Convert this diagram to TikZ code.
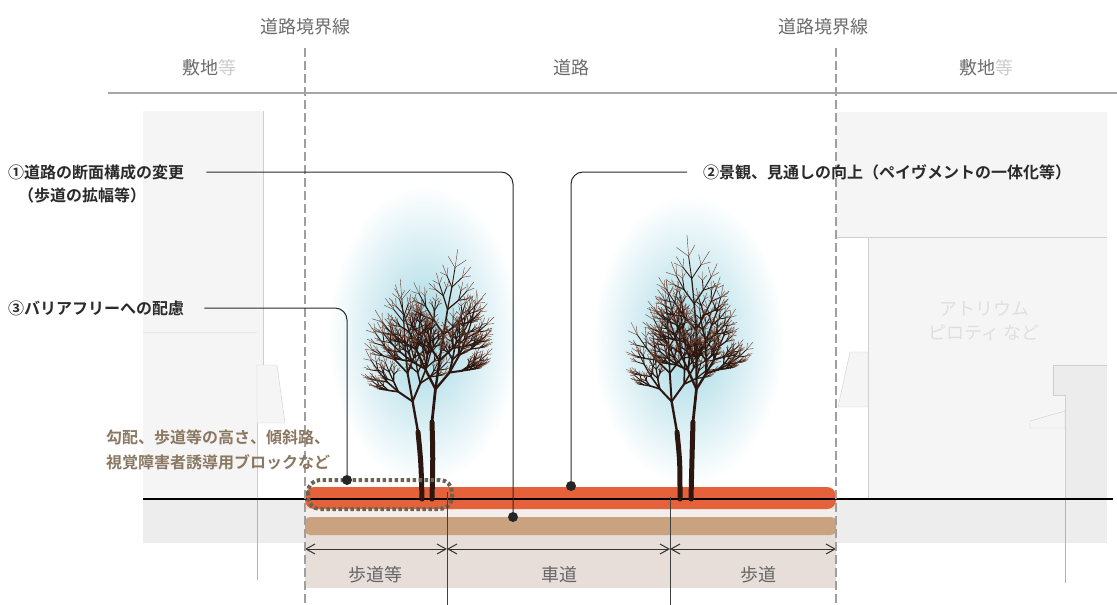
\documentclass[tikz,border=0pt]{standalone}
\usepackage{fontspec}
\setmainfont{Noto Sans CJK JP}[BoldFont={Noto Sans CJK JP Bold}]
\usetikzlibrary{arrows.meta}

\definecolor{ink}{HTML}{2A2A2A}
\definecolor{note}{HTML}{8A7862}
\definecolor{paving}{HTML}{E5613A}
\definecolor{subbase}{HTML}{C9A37F}
\definecolor{verge}{HTML}{E7DEDA}
\definecolor{lot}{HTML}{F5F5F5}
\definecolor{lotline}{HTML}{CFCFCF}
\definecolor{annex}{HTML}{ECECEC}
\definecolor{soil}{HTML}{EDEDED}
\definecolor{bark}{HTML}{2B1710}
\definecolor{twigtip}{HTML}{6A3D2E}
\definecolor{glow}{HTML}{A2D7E3}

\tikzset{
  headtext/.style={gray!85!black, font=\fontsize{18}{22}\selectfont, inner sep=0pt},
  calltext/.style={ink, font=\bfseries\fontsize{16}{23}\selectfont, inner sep=0pt, anchor=west},
  notetext/.style={note, font=\bfseries\fontsize{16}{25}\selectfont, inner sep=0pt, align=left, anchor=west},
  widthtext/.style={gray!80!black, font=\fontsize{18}{22}\selectfont, inner sep=0pt},
  leader/.style={ink, line width=1pt, rounded corners=12pt},
  leaderdot/.style={circle, fill=black!85, inner sep=0pt, minimum size=10pt},
  boundary/.style={gray!75, line width=1.3pt, dash pattern=on 9pt off 4pt},
  dimline/.style={black!80, line width=1pt, {Straight Barb[length=9pt,width=10pt]}-{Straight Barb[length=9pt,width=10pt]}},
  tick/.style={black!75, line width=0.8pt},
  trunk/.style={bark, line width=5pt, line cap=round},
}

% one limb of a tree: start x, start y, angle, level, length
% it forks into a leading shoot and two side shoots
\newcommand\twig[5]{%
  \ifnum#4>0
  \begingroup
    \pgfmathsetmacro\twigx{#1+#5*cos(#3)}%
    \pgfmathsetmacro\twigy{#2-#5*sin(#3)}%
    \ifnum#4<2
      \colorlet{twigcol}{twigtip}\def\twigw{0.4}%
    \else
      \colorlet{twigcol}{bark}\pgfmathsetmacro\twigw{0.1+0.38*#4}%
    \fi
    \draw[twigcol, line width=\twigw pt, line cap=round] (#1,#2) -- (\twigx,\twigy);
    \pgfmathsetmacro\twiga{#3+0.15*(90-#3)+10*(rnd-0.5)}%
    \pgfmathsetmacro\twigb{min(#3+25+22*rnd,172)}%
    \pgfmathsetmacro\twigc{max(#3-25-22*rnd,8)}%
    \pgfmathsetmacro\twigla{#5*(0.86+0.1*rnd)}%
    \pgfmathsetmacro\twiglb{#5*(0.55+0.15*rnd)}%
    \pgfmathsetmacro\twiglc{#5*(0.55+0.15*rnd)}%
    \edef\twignext{%
      \noexpand\twig{\twigx}{\twigy}{\twiga}{\the\numexpr#4-1\relax}{\twigla}%
      \noexpand\twig{\twigx}{\twigy}{\twigb}{\the\numexpr#4-1\relax}{\twiglb}%
      \noexpand\twig{\twigx}{\twigy}{\twigc}{\the\numexpr#4-1\relax}{\twiglc}}%
    \twignext
  \endgroup
  \fi}

\begin{document}
\begin{tikzpicture}[x=1pt, y=-1pt]
  \useasboundingbox (0,0) rectangle (1117,605);

  % lot on the left
  \fill[lot] (143,111) -- (263,111) -- (263,365) -- (257,365) -- (257,499) -- (143,499) -- cycle;
  \draw[lotline] (263,111) -- (263,365) -- (257,365) -- (257,499);
  \draw[lotline!50] (143,332) -- (257,332);
  \filldraw[fill=lot, draw=lotline] (257,365) -- (277,365) -- (285,423) -- (257,423) -- cycle;

  % lot on the right
  \fill[lot] (836,112) rectangle (1107,237);
  \fill[lot] (868,237) rectangle (1107,499);
  \draw[lotline] (836,237) -- (1107,237);
  \draw[lotline] (868,237) -- (868,499);
  \fill[annex] (1053,365) -- (1107,365) -- (1107,499) -- (1065,499) -- (1065,395) -- (1053,395) -- cycle;
  \draw[lotline] (1107,365) -- (1053,365) -- (1053,395) -- (1065,395) -- (1065,499);
  \filldraw[fill=lot, draw=lotline] (1030,421) -- (1065,411) -- (1065,428) -- (1030,428) -- cycle;
  \filldraw[fill=lot, draw=lotline] (850,352) -- (868,352) -- (868,407) -- (838,407) -- cycle;
  \node[headtext, gray!25, align=center, font=\fontsize{18}{24}\selectfont] (atrium) at (984,321) {アトリウム\\ピロティ など};

  % ground below the lots
  \fill[soil] (143,499) rectangle (305,543);
  \fill[soil] (836,499) rectangle (1107,543);
  \draw[gray!60] (257,499) -- (257,580);
  \draw[gray!60] (1065,499) -- (1065,583);

  % glow of the crowns
  \shade[inner color=glow, outer color=white] (424,335) ellipse [x radius=96, y radius=150];
  \shade[inner color=glow, outer color=white] (688,340) ellipse [x radius=96, y radius=145];

  % road layers
  \fill[verge] (305,499) rectangle (836,588);
  \fill[verge!50!white] (305,509) rectangle (836,517);
  \fill[paving, rounded corners=9pt] (305,487) rectangle (836,509);
  \fill[subbase, rounded corners=5pt] (305,517) rectangle (836,535);
  \draw[line width=2pt] (143,499) -- (1113,499);

  % street trees
  \pgfmathsetseed{11}
  \draw[trunk] (422,499) .. controls (421,462) .. (418,432);
  \draw[trunk] (432,499) .. controls (433,458) .. (432,422);
  \twig{418}{432}{100}{6}{31}
  \twig{432}{422}{84}{7}{33}
  \pgfmathsetseed{23}
  \draw[trunk] (680,499) .. controls (680,462) .. (677,432);
  \draw[trunk] (691,499) .. controls (692,458) .. (693,422);
  \twig{677}{432}{100}{6}{31}
  \twig{693}{422}{84}{7}{33}

  % barrier free zone
  \draw[gray!55!black!80!olive, line width=4pt, dash pattern=on 3.5pt off 2.5pt, rounded corners=12pt]
    (308,480) rectangle (452,509);

  % widths
  \draw[tick] (447,492) -- (447,605);
  \draw[tick] (670,497) -- (670,605);
  \coordinate (w0) at (305,549);
  \coordinate (w1) at (447,549);
  \coordinate (w2) at (670,549);
  \coordinate (w3) at (836,549);
  \draw[dimline] (w0) -- (w1);
  \draw[dimline] (w1) -- (w2);
  \draw[dimline] (w2) -- (w3);
  \node[widthtext] (walkish) at (375,575) {歩道等};
  \node[widthtext] (carway) at (559,575) {車道};
  \node[widthtext] (walk) at (758,575) {歩道};

  % road boundaries
  \draw[gray!70, line width=1.2pt] (108,93) -- (1117,93);
  \draw[boundary] (305,48) -- (305,605);
  \draw[boundary] (836,48) -- (836,605);
  \node[headtext] (edge west) at (305,27) {道路境界線};
  \node[headtext] (edge east) at (823,27) {道路境界線};
  \node[headtext] (site west) at (209,68) {敷地\textcolor{gray!40}{等}};
  \node[headtext] (road) at (571,68) {道路};
  \node[headtext] (site east) at (986,68) {敷地\textcolor{gray!40}{等}};

  % measures and leaders
  \node[calltext] (section) at (8,172) {①道路の断面構成の変更};
  \node[calltext] (section sub) at (18,195) {（歩道の拡幅等）};
  \node[calltext] (scenery) at (703,172) {②景観、見通しの向上（ペイヴメントの一体化等）};
  \node[calltext] (barrier) at (8,308) {③バリアフリーへの配慮};
  \node[notetext] (barrier note) at (106,449.5) {勾配、歩道等の高さ、傾斜路、\\視覚障害者誘導用ブロックなど};

  \node[leaderdot] (dot section) at (513,517) {};
  \node[leaderdot] (dot scenery) at (571,486) {};
  \node[leaderdot] (dot barrier) at (347,480) {};

  \draw[leader] (section.east) ++(22,0) -| (dot section);
  \draw[leader] (scenery.west) ++(-16,0) -| (dot scenery);
  \draw[leader] (barrier.east) ++(20,0) -| (dot barrier);
\end{tikzpicture}
\end{document}
